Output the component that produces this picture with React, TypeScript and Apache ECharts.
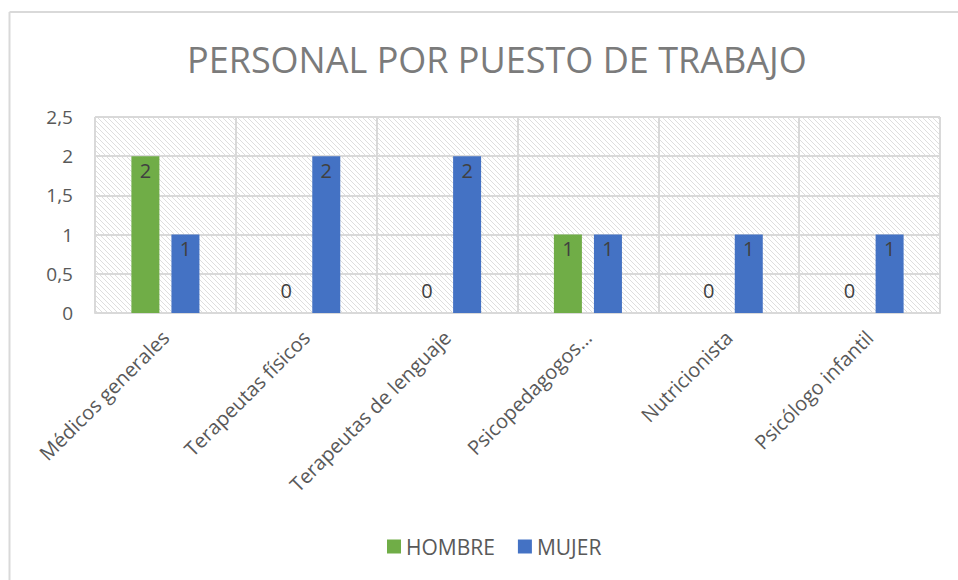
import React, { useEffect, useRef } from "react";
import * as echarts from "echarts";

const categories = [
  "Médicos generales",
  "Terapeutas físicos",
  "Terapeutas de lenguaje",
  "Psicopedagogos…",
  "Nutricionista",
  "Psicólogo infantil",
];
const hombre = [2, 0, 0, 1, 0, 0];
const mujer = [1, 2, 2, 1, 1, 1];
const yMin = 0;
const yMax = 2.5;
const yInterval = 0.5;

const hatchSvg =
  "data:image/svg+xml;utf8," +
  encodeURIComponent(
    '<svg xmlns="http://www.w3.org/2000/svg" width="5" height="5">' +
      '<rect width="5" height="5" fill="#ffffff"/>' +
      '<path d="M0,0 L5,5 M-1,4 L1,6 M4,-1 L6,1" stroke="#dadada" stroke-width="0.9"/>' +
      "</svg>"
  );

function toData(vals: number[]) {
  return vals.map((v) =>
    v === 0
      ? { value: v, label: { position: "top", distance: 13 } }
      : { value: v }
  );
}

export default function App() {
  const ref = useRef<HTMLDivElement>(null);
  useEffect(() => {
    if (!ref.current) return;
    const chart = echarts.init(ref.current, null, { renderer: "svg" });
    const img = new Image();
    img.src = hatchSvg;
    const font = "'Open Sans', 'Noto Sans', sans-serif";
    const labelCfg = {
      show: true,
      position: "insideTop",
      distance: 4,
      color: "#404040",
      fontSize: 20,
      fontFamily: font,
    };
    chart.setOption({
      animation: false,
      backgroundColor: "#ffffff",
      textStyle: { fontFamily: font },
      title: {
        text: "PERSONAL POR PUESTO DE TRABAJO",
        left: 182,
        top: 36,
        textStyle: {
          fontSize: 36,
          fontWeight: "normal",
          color: "#7b7b7b",
          fontFamily: font,
        },
      },
      legend: {
        bottom: 18,
        left: 382,
        icon: "rect",
        itemWidth: 14,
        itemHeight: 14,
        itemGap: 23,
        textStyle: { fontSize: 21, color: "#595959", fontFamily: font },
        data: ["HOMBRE", "MUJER"],
      },
      graphic: [
        {
          type: "line",
          shape: { x1: 9.5, y1: 12, x2: 958, y2: 12 },
          style: { stroke: "#d9d9d9", lineWidth: 2 },
        },
        {
          type: "line",
          shape: { x1: 9.5, y1: 12, x2: 9.5, y2: 580 },
          style: { stroke: "#d9d9d9", lineWidth: 2 },
        },
      ],
      grid: {
        left: 95,
        right: 18,
        top: 117,
        bottom: 267,
        show: true,
        borderWidth: 0,
        backgroundColor: { image: img, repeat: "repeat" },
      },
      xAxis: {
        type: "category",
        data: categories,
        axisLine: { show: true, lineStyle: { color: "#d9d9d9", width: 2 } },
        axisTick: { show: false },
        splitLine: { show: true, lineStyle: { color: "#d9d9d9", width: 2 } },
        axisLabel: {
          rotate: 45,
          interval: 0,
          margin: 21,
          fontSize: 20,
          color: "#595959",
          fontFamily: font,
        },
      },
      yAxis: {
        type: "value",
        min: yMin,
        max: yMax,
        interval: yInterval,
        axisLine: { show: false },
        axisTick: { show: false },
        splitLine: { show: true, lineStyle: { color: "#d9d9d9", width: 2 } },
        axisLabel: {
          margin: 22,
          fontSize: 19,
          color: "#595959",
          fontFamily: font,
          formatter: (v: number) => String(v).replace(".", ","),
        },
      },
      series: [
        {
          name: "HOMBRE",
          type: "bar",
          data: toData(hombre),
          barWidth: 28,
          barGap: "43%",
          itemStyle: { color: "#70ad47" },
          label: labelCfg,
        },
        {
          name: "MUJER",
          type: "bar",
          data: toData(mujer),
          barWidth: 28,
          itemStyle: { color: "#4472c4" },
          label: labelCfg,
        },
      ],
    });
    img.onload = () => {
      chart.setOption({ grid: { backgroundColor: { image: img, repeat: "repeat" } } });
    };
    return () => chart.dispose();
  }, []);
  return (
    <div
      ref={ref}
      style={{ position: "fixed", left: 0, top: 0, width: 958, height: 580 }}
    />
  );
}
